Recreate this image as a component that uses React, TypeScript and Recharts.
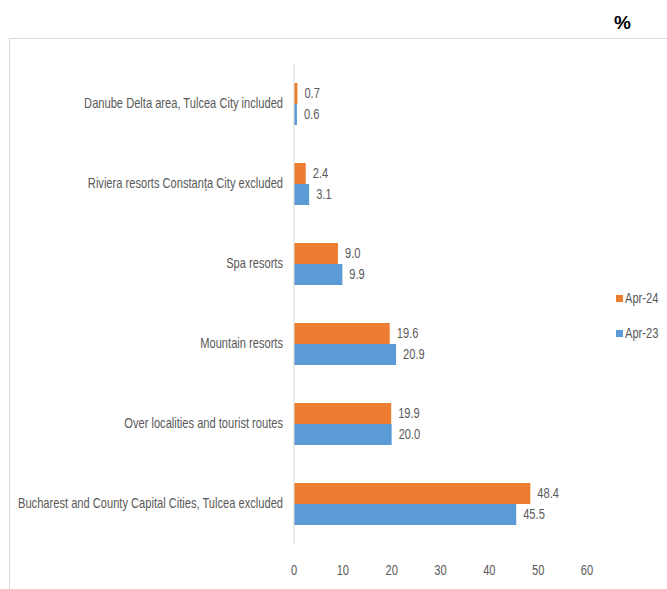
import { BarChart, Bar, XAxis, YAxis, LabelList } from 'recharts';

const CATEGORIES = [
  'Danube Delta area, Tulcea City included',
  'Riviera resorts Constanța City excluded',
  'Spa resorts',
  'Mountain resorts',
  'Over localities and tourist routes',
  'Bucharest and County Capital Cities, Tulcea excluded',
];
const APR_24 = [0.7, 2.4, 9.0, 19.6, 19.9, 48.4];
const APR_23 = [0.6, 3.1, 9.9, 20.9, 20.0, 45.5];
const X_TICKS = [0, 10, 20, 30, 40, 50, 60];

const SERIES = [
  { key: 'apr24', name: 'Apr-24', color: '#ed7d31' },
  { key: 'apr23', name: 'Apr-23', color: '#5b9bd5' },
];

const FONT = '"Liberation Sans", Arial, sans-serif';
const GREY = '#595959';
const SQUEEZE = 0.795;

const data = CATEGORIES.map((name, i) => ({ name, apr24: APR_24[i], apr23: APR_23[i] }));

// narrow text, the original uses a condensed font
function NarrowText({ x, y, anchor, children }: { x: number; y: number; anchor: 'start' | 'middle' | 'end'; children: any }) {
  return (
    <g transform={`translate(${x},${y})`}>
      <text transform={`scale(${SQUEEZE},1)`} textAnchor={anchor} dy="0.35em" fill={GREY} fontSize={14} fontFamily={FONT}>
        {children}
      </text>
    </g>
  );
}

const CategoryTick = (p: any) => <NarrowText x={p.x} y={p.y - 1} anchor="end">{p.payload.value}</NarrowText>;
const ValueTick = (p: any) => <NarrowText x={p.x} y={p.y + 18} anchor="middle">{p.payload.value}</NarrowText>;
const BarValue = (p: any) => (
  <NarrowText x={p.x + p.width + 7} y={p.y + p.height / 2} anchor="start">{Number(p.value).toFixed(1)}</NarrowText>
);

export default function App() {
  return (
    <div style={{ position: 'absolute', left: 0, top: 0, width: 667, height: 589, background: '#fff', overflow: 'hidden' }}>
      <div style={{ position: 'absolute', left: 614, top: 12, fontFamily: 'Arial, "Liberation Sans", sans-serif', fontWeight: 700, fontSize: 19, color: '#000' }}>%</div>
      <div style={{ position: 'absolute', left: 9, top: 38, width: 700, height: 600, borderLeft: '1px solid #d9d9d9', borderTop: '1px solid #d9d9d9' }} />
      <div style={{ position: 'absolute', left: 0, top: 0 }}>
        <BarChart
          layout="vertical"
          width={667}
          height={589}
          data={data}
          margin={{ top: 64, right: 80, bottom: 15, left: 0 }}
          barGap={0}
          barCategoryGap={19}
        >
          <XAxis
            type="number"
            domain={[0, 60]}
            ticks={X_TICKS}
            axisLine={false}
            tickLine={false}
            height={30}
            tick={ValueTick}
          />
          <YAxis
            type="category"
            dataKey="name"
            width={294}
            axisLine={{ stroke: '#d9d9d9' }}
            tickLine={false}
            tickMargin={5}
            interval={0}
            tick={CategoryTick}
          />
          {SERIES.map(s => (
            <Bar key={s.key} dataKey={s.key} name={s.name} fill={s.color} barSize={21} isAnimationActive={false}>
              <LabelList dataKey={s.key} content={BarValue} />
            </Bar>
          ))}
        </BarChart>
      </div>
      <div style={{ position: 'absolute', left: 616, top: 289, fontFamily: FONT, fontSize: 14, color: GREY, whiteSpace: 'nowrap' }}>
        {SERIES.map(s => (
          <div key={s.key} style={{ display: 'flex', alignItems: 'center', height: 18, marginBottom: 17 }}>
            <span style={{ width: 7, height: 7, background: s.color, marginRight: 2, flex: 'none' }} />
            <span style={{ display: 'inline-block', transform: `scaleX(${SQUEEZE})`, transformOrigin: 'left center' }}>{s.name}</span>
          </div>
        ))}
      </div>
    </div>
  );
}
